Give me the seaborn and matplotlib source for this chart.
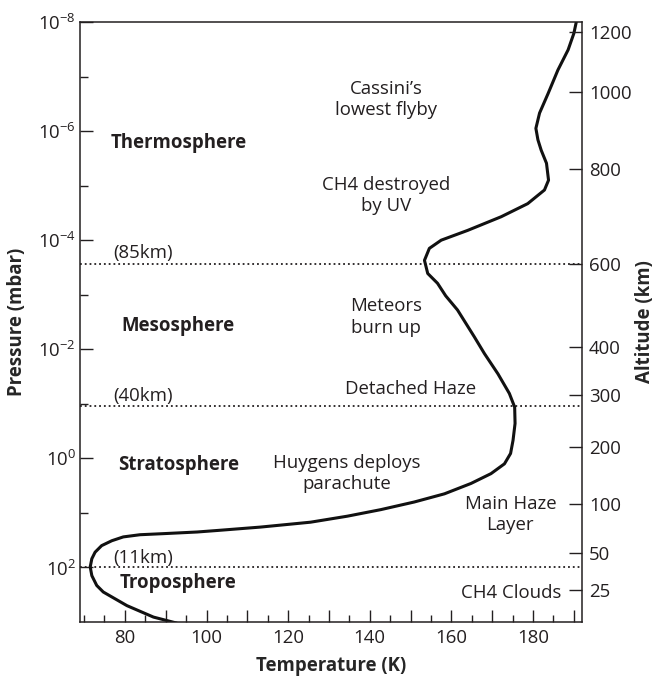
import numpy as np
import pandas as pd
import matplotlib
matplotlib.use("Agg")
import matplotlib.pyplot as plt
import seaborn as sns
from matplotlib.ticker import FixedLocator, FuncFormatter, NullLocator

# ---------------- data ----------------
temperature_K = [190.6, 190.0, 188.6, 186.1, 183.7, 181.6, 180.7, 181.2, 182.0, 183.3,
                 183.8, 182.8, 178.7, 172.2, 164.0, 157.5, 154.6, 153.4, 154.2, 156.6,
                 158.6, 161.5, 165.6, 168.1, 171.4, 174.2, 175.5, 175.6, 175.1, 174.5,
                 173.0, 169.7, 164.8, 158.3, 150.9, 142.7, 134.5, 125.5, 113.2, 103.0,
                 97.7, 89.5, 83.7, 79.6, 76.8, 74.3, 72.7, 71.9, 71.5, 71.9,
                 73.1, 74.7, 80.5, 87.0, 92.7]
log10_pressure_mbar = [-8.00, -7.79, -7.49, -7.12, -6.69, -6.33, -6.05, -5.84, -5.65, -5.41,
                       -5.10, -4.92, -4.67, -4.43, -4.18, -4.00, -3.85, -3.63, -3.39, -3.21,
                       -2.98, -2.72, -2.23, -1.92, -1.55, -1.19, -0.94, -0.64, -0.33, -0.09,
                       0.10, 0.28, 0.46, 0.65, 0.80, 0.94, 1.06, 1.17, 1.26, 1.32,
                       1.35, 1.38, 1.40, 1.44, 1.51, 1.60, 1.72, 1.84, 1.99, 2.15,
                       2.33, 2.45, 2.70, 2.91, 3.02]

pressure_major_exponents = [-8, -6, -4, -2, 0, 2]
pressure_minor_exponents = [-7, -5, -3, -1, 1]
temperature_tick_labels = [80, 100, 120, 140, 160, 180]

altitude_km = [1200, 1000, 800, 600, 400, 300, 200, 100, 50, 25]
altitude_log10_pressure = [-7.82, -6.72, -5.30, -3.57, -2.04, -1.16, -0.20, 0.84, 1.74, 2.42]

boundary_labels = ["(85km)", "(40km)", "(11km)"]
boundary_log10_pressure = [-3.57, -0.96, 2.0]

layer_names = ["Thermosphere", "Mesosphere", "Stratosphere", "Troposphere"]

notes = ["Cassini\u2019s\nlowest flyby", "CH4 destroyed\nby UV", "Meteors\nburn up",
         "Detached Haze", "Huygens deploys\nparachute", "Main Haze\nLayer", "CH4 Clouds"]

# ---------------- layout (positions of annotations) ----------------
layer_pos = [(93.1, -5.69), (93.1, -2.33), (93.1, 0.21), (93.1, 2.37)]
boundary_text_pos = [(77.2, -3.68), (77.2, -1.046), (77.2, 1.914)]
note_pos = [(144.0, -6.58, "center"), (144.0, -4.82, "center"), (144.0, -2.59, "center"),
            (150.1, -1.275, "center"), (134.3, 0.28, "center"), (174.45, 1.03, "center"),
            (186.9, 2.468, "right")]

FONT = "Open Sans"
FS = 13.4
INK = "#231f20"

sns.set_style("white")
plt.rcParams["font.family"] = [FONT, "DejaVu Sans"]
plt.rcParams["mathtext.fontset"] = "custom"
plt.rcParams["mathtext.rm"] = FONT
plt.rcParams["mathtext.it"] = FONT + ":italic"
plt.rcParams["mathtext.bf"] = FONT + ":bold"
plt.rcParams["text.color"] = INK
plt.rcParams["axes.edgecolor"] = INK
plt.rcParams["xtick.color"] = INK
plt.rcParams["ytick.color"] = INK

df = pd.DataFrame({"T": temperature_K,
                   "P": np.power(10.0, np.array(log10_pressure_mbar))})

fig = plt.figure(figsize=(6.54, 6.80), dpi=100)
ax = fig.add_axes([80 / 654, 1 - 622 / 680, 502 / 654, 600 / 680])

sns.lineplot(data=df, x="T", y="P", sort=False, estimator=None, color="#111111",
             linewidth=2.2, ax=ax, legend=False,
             solid_joinstyle="round", solid_capstyle="round")

ax.set_yscale("log")
ax.set_xlim(69, 192)
ax.set_ylim(1e3, 1e-8)

# boundaries
for lp in boundary_log10_pressure:
    ax.axhline(10.0 ** lp, color=INK, linestyle=":", linewidth=1.3, zorder=1)

# y ticks
ax.yaxis.set_major_locator(FixedLocator([10.0 ** e for e in pressure_major_exponents]))
ax.yaxis.set_minor_locator(FixedLocator([10.0 ** e for e in pressure_minor_exponents]))
ax.yaxis.set_major_formatter(FuncFormatter(
    lambda v, p: r"$\mathregular{10^{%d}}$" % int(round(np.log10(v)))))
ax.yaxis.set_minor_formatter(FuncFormatter(lambda v, p: ""))

# x ticks
ax.xaxis.set_major_locator(FixedLocator(list(range(80, 191, 10))))
ax.xaxis.set_minor_locator(FixedLocator([t for t in range(70, 191, 5) if t % 10 != 0 or t == 70]))
ax.xaxis.set_major_formatter(FuncFormatter(
    lambda v, p: str(int(v)) if int(round(v)) in temperature_tick_labels else ""))

ax.tick_params(axis="y", which="major", direction="in", length=9.4, width=1.0, pad=3,
               labelsize=FS, left=True, right=False)
ax.tick_params(axis="y", which="minor", direction="in", length=6, width=1.0,
               left=True, right=False)
ax.tick_params(axis="x", which="major", direction="in", length=8.6, width=1.0, pad=5,
               labelsize=FS, bottom=True, top=False)
ax.tick_params(axis="x", which="minor", direction="in", length=4.8, width=1.0,
               bottom=True, top=False)

for s in ax.spines.values():
    s.set_linewidth(1.1)
    s.set_color(INK)

ax.set_xlabel("Temperature (K)", fontsize=FS, fontweight="bold")
ax.set_ylabel("Pressure (mbar)", fontsize=FS, fontweight="bold")
ax.xaxis.set_label_coords(0.5, -0.0567)
ax.yaxis.set_label_coords(-0.1056, 0.5)

# right altitude axis
ax2 = ax.twinx()
ax2.set_yscale("log")
ax2.set_ylim(1e3, 1e-8)
ax2.yaxis.set_major_locator(FixedLocator([10.0 ** e for e in altitude_log10_pressure]))
ax2.yaxis.set_minor_locator(NullLocator())
ax2.set_yticklabels([str(a) for a in altitude_km])
ax2.tick_params(axis="y", which="major", direction="in", length=9.4, width=1.0, pad=5,
                labelsize=FS, right=True, left=False)
for s in ax2.spines.values():
    s.set_visible(False)
ax2.set_ylabel("Altitude (km)", fontsize=FS, fontweight="bold")
ax2.yaxis.set_label_coords(1.1056, 0.5)

# texts
for name, (tx, lp) in zip(layer_names, layer_pos):
    ax.text(tx, 10.0 ** lp, name, ha="center", va="baseline", fontsize=FS,
            fontweight="bold")
for lab, (tx, lp) in zip(boundary_labels, boundary_text_pos):
    ax.text(tx, 10.0 ** lp, lab, ha="left", va="baseline", fontsize=FS)
for note, (tx, lp, ha) in zip(notes, note_pos):
    ax.text(tx, 10.0 ** lp, note, ha=ha, va="center", multialignment="center",
            fontsize=FS, linespacing=1.25)

fig.savefig("out.png", dpi=100)
